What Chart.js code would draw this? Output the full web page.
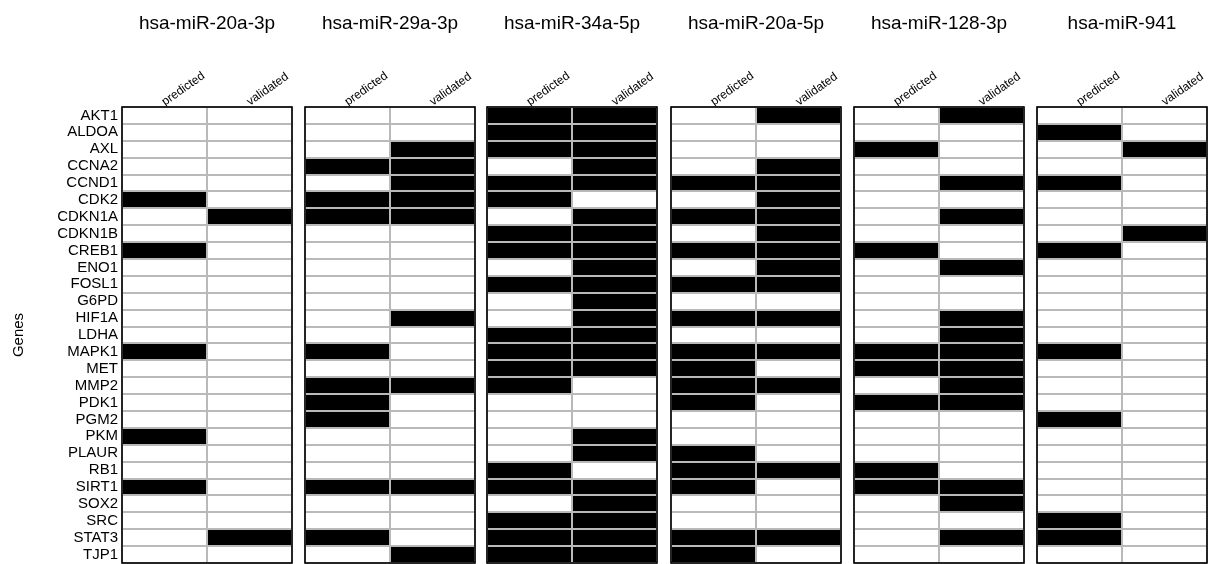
<!DOCTYPE html>
<html>
<head>
<meta charset="utf-8">
<script src="https://cdn.jsdelivr.net/npm/chart.js@4.4.1/dist/chart.umd.min.js"></script>
<style>
  html, body { margin: 0; padding: 0; background: #fff; }
  #wrap { position: relative; width: 1211px; height: 564px; overflow: hidden; background: #fff; }
  #wrap canvas { position: absolute; top: 0; }
</style>
</head>
<body>
<div id="wrap"></div>
<script>
// ---------- data ----------
const genes = ['AKT1','ALDOA','AXL','CCNA2','CCND1','CDK2','CDKN1A','CDKN1B','CREB1','ENO1','FOSL1','G6PD','HIF1A','LDHA','MAPK1','MET','MMP2','PDK1','PGM2','PKM','PLAUR','RB1','SIRT1','SOX2','SRC','STAT3','TJP1'];
const mirnas = ['hsa-miR-20a-3p','hsa-miR-29a-3p','hsa-miR-34a-5p','hsa-miR-20a-5p','hsa-miR-128-3p','hsa-miR-941'];
const evidenceTypes = ['predicted','validated'];

const predicted_miR20a3p = [0,0,0,0,0,1,0,0,1,0,0,0,0,0,1,0,0,0,0,1,0,0,1,0,0,0,0];
const validated_miR20a3p = [0,0,0,0,0,0,1,0,0,0,0,0,0,0,0,0,0,0,0,0,0,0,0,0,0,1,0];
const predicted_miR29a3p = [0,0,0,1,0,1,1,0,0,0,0,0,0,0,1,0,1,1,1,0,0,0,1,0,0,1,0];
const validated_miR29a3p = [0,0,1,1,1,1,1,0,0,0,0,0,1,0,0,0,1,0,0,0,0,0,1,0,0,0,1];
const predicted_miR34a5p = [1,1,1,0,1,1,0,1,1,0,1,0,0,1,1,1,1,0,0,0,0,1,1,0,1,1,1];
const validated_miR34a5p = [1,1,1,1,1,0,1,1,1,1,1,1,1,1,1,1,0,0,0,1,1,0,1,1,1,1,1];
const predicted_miR20a5p = [0,0,0,0,1,0,1,0,1,0,1,0,1,0,1,1,1,1,0,0,1,1,1,0,0,1,1];
const validated_miR20a5p = [1,0,0,1,1,1,1,1,1,1,1,0,1,0,1,0,1,0,0,0,0,1,0,0,0,1,0];
const predicted_miR1283p = [0,0,1,0,0,0,0,0,1,0,0,0,0,0,1,1,0,1,0,0,0,1,1,0,0,0,0];
const validated_miR1283p = [1,0,0,0,1,0,1,0,0,1,0,0,1,1,1,1,1,1,0,0,0,0,1,1,0,1,0];
const predicted_miR941 = [0,1,0,0,1,0,0,0,1,0,0,0,0,0,1,0,0,0,1,0,0,0,0,0,1,1,0];
const validated_miR941 = [0,0,1,0,0,0,0,1,0,0,0,0,0,0,0,0,0,0,0,0,0,0,0,0,0,0,0];

const panelPredicted = [predicted_miR20a3p, predicted_miR29a3p, predicted_miR34a5p, predicted_miR20a5p, predicted_miR1283p, predicted_miR941];
const panelValidated = [validated_miR20a3p, validated_miR29a3p, validated_miR34a5p, validated_miR20a5p, validated_miR1283p, validated_miR941];

// ---------- layout ----------
const FONT = "'Liberation Sans', Arial, Helvetica, sans-serif";
const panelLefts = [122, 305, 487, 671, 854, 1037];
const panelWidth = 170;
const plotTop = 107;
const H = 564;
const GRID = '#b9b9b9';

const borderPlugin = {
  id: 'panelBorder',
  afterDraw(chart) {
    const a = chart.chartArea;
    const ctx = chart.ctx;
    ctx.save();
    ctx.strokeStyle = '#000';
    ctx.lineWidth = 1.6;
    ctx.strokeRect(a.left, a.top, a.right - a.left, a.bottom - a.top);
    ctx.restore();
  }
};

const wrap = document.getElementById('wrap');

mirnas.forEach((mir, i) => {
  const first = i === 0;
  const padL = first ? 0 : 3;
  const padR = 3;
  const yAxisW = first ? panelLefts[0] : 0;
  const canvasLeft = first ? 0 : panelLefts[i] - padL;
  const canvasW = (first ? panelLefts[0] : padL) + panelWidth + padR;

  const cv = document.createElement('canvas');
  cv.width = canvasW;
  cv.height = H;
  cv.style.left = canvasLeft + 'px';
  cv.style.width = canvasW + 'px';
  cv.style.height = H + 'px';
  wrap.appendChild(cv);

  const colorOf = v => v ? '#000000' : '#ffffff';

  new Chart(cv, {
    type: 'bar',
    data: {
      labels: genes,
      datasets: [
        {
          label: evidenceTypes[0],
          data: genes.map(() => 1),
          backgroundColor: panelPredicted[i].map(colorOf),
          borderWidth: 0,
          barPercentage: 1,
          categoryPercentage: 1,
          stack: 's'
        },
        {
          label: evidenceTypes[1],
          data: genes.map(() => 1),
          backgroundColor: panelValidated[i].map(colorOf),
          borderWidth: 0,
          barPercentage: 1,
          categoryPercentage: 1,
          stack: 's'
        }
      ]
    },
    options: {
      indexAxis: 'y',
      responsive: false,
      animation: false,
      devicePixelRatio: 1,
      layout: { padding: { left: padL, right: padR, top: 0, bottom: 1 } },
      plugins: {
        legend: { display: false },
        tooltip: { enabled: false },
        title: { display: false }
      },
      scales: {
        x: {
          type: 'linear',
          position: 'bottom',
          stacked: true,
          min: 0,
          max: 2,
          ticks: { display: false, stepSize: 1 },
          grid: { color: GRID, lineWidth: 2, drawTicks: false, z: 1 },
          border: { display: false },
          afterFit(s) { s.height = 0; s.paddingLeft = 0; s.paddingRight = 0; }
        },
        x2: {
          type: 'linear',
          position: 'top',
          min: 0,
          max: 2,
          grid: { display: false, drawTicks: false },
          border: { display: false },
          afterBuildTicks(s) { s.ticks = [{ value: 0.58 }, { value: 1.58 }]; },
          ticks: {
            color: '#000',
            font: { family: FONT, size: 12 },
            minRotation: 35,
            maxRotation: 35,
            padding: -2,
            autoSkip: false,
            callback: (v, idx) => evidenceTypes[idx]
          },
          title: {
            display: true,
            text: mir,
            color: '#000',
            font: { family: FONT, size: 19 },
            padding: { top: 12, bottom: 0 }
          },
          afterFit(s) { s.height = plotTop; s.paddingLeft = 0; s.paddingRight = 0; }
        },
        y: {
          type: 'category',
          position: 'left',
          stacked: true,
          offset: true,
          grid: { color: GRID, lineWidth: 2, drawTicks: false, offset: true, z: 1 },
          border: { display: false },
          ticks: {
            display: first,
            color: '#000',
            font: { family: FONT, size: 15 },
            padding: 4,
            autoSkip: false
          },
          title: {
            display: first,
            text: 'Genes',
            color: '#000',
            font: { family: FONT, size: 15 },
            padding: { top: 10, bottom: 0 }
          },
          afterFit(s) { s.width = yAxisW; s.paddingTop = 0; s.paddingBottom = 0; }
        }
      }
    },
    plugins: [borderPlugin]
  });
});
</script>
</body>
</html>
